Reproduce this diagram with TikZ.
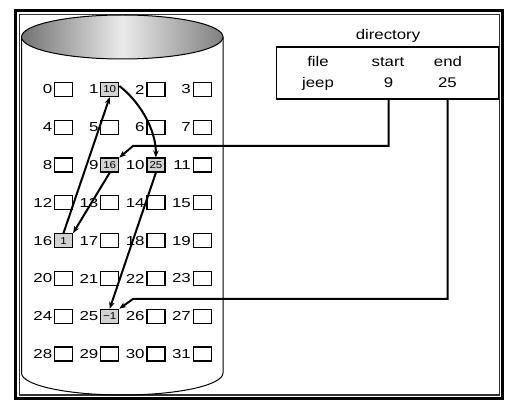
\documentclass[tikz,border=0pt]{standalone}
\usepackage{fontspec}
\setmainfont{Liberation Sans}
\newfontfamily\cellfont[FakeStretch=1.3]{Liberation Sans}
\newfontfamily\dirfont[FakeStretch=1.2]{Liberation Sans}
\newfontfamily\inboxfont[FakeStretch=1.15]{Liberation Sans}
\usetikzlibrary{arrows.meta}
\begin{document}
\begin{tikzpicture}[x=1pt,y=-1pt,
  blk/.style={draw, line width=1.2pt, minimum width=18pt, minimum height=14pt, inner sep=0pt, fill=white, font=\inboxfont\fontsize{10}{10}\selectfont},
  used/.style={blk, fill=gray!35},
  lbl/.style={anchor=east, inner sep=0pt, font=\cellfont\fontsize{13}{15}\selectfont},
  dtext/.style={anchor=base, inner sep=0pt, font=\dirfont\fontsize{14}{16}\selectfont},
  ptr/.style={line width=2pt, -{Stealth[length=7pt,width=5.5pt]}},
]
\useasboundingbox (0,0) rectangle (515,409);
\fill[white] (0,0) rectangle (515,409);
% frame
\draw[line width=3pt] (15.3,10.7) rectangle (502.3,398.3);
\draw[line width=1.3pt, black!80] (19.5,14.5) rectangle (499.3,395);
% cylinder
\draw[line width=1pt] (21.5,37) -- (21.5,373) arc[start angle=180, end angle=360, x radius=100.75pt, y radius=22pt] -- (223,37);
\shade[left color=black!55, right color=black!50, middle color=black!8, draw=black, line width=1pt]
  (122.25,37) ellipse [x radius=100.75pt, y radius=22pt];
% blocks
\foreach \i/\t/\s in {0//blk,1/10/used,2//blk,3//blk,4//blk,5//blk,6//blk,7//blk,
  8//blk,9/16/used,10/25/used,11//blk,12//blk,13//blk,14//blk,15//blk,
  16/1/used,17//blk,18//blk,19//blk,20//blk,21//blk,22//blk,23//blk,
  24//blk,25/−1/used,26//blk,27//blk,28//blk,29//blk,30//blk,31//blk} {
  \pgfmathtruncatemacro\c{mod(\i,4)}
  \pgfmathtruncatemacro\r{div(\i,4)}
  \node[\s] (b\i) at ({63.5+46.2*\c},{89.5+37.8*\r}) {\t};
  \node[lbl] (l\i) at ([xshift=-1.5pt]b\i.west) {\i};
}
% directory
\node[dtext] (dirt) at (388,39.3) {directory};
\node[draw, line width=1.2pt, minimum width=222.5pt, minimum height=52pt, inner sep=0pt] (dir) at (387.5,73) {};
\node[dtext] (dfile) at (318,66.7) {file};
\node[dtext] (dstart) at (388,66.7) {start};
\node[dtext] (dend) at (448,66.7) {end};
\node[dtext] (djeep) at (318,87.7) {jeep};
\node[dtext] (d9) at (388.5,87.7) {9};
\node[dtext] (d25) at (447.5,87.7) {25};
\coordinate (c1) at (133,146);
\coordinate (c2) at (133,299);
% chain
\draw[ptr] (b16.north) -- (b1.south);
\draw[ptr] (b1.20) .. controls (138,100) and (156,128) .. (b10.north);
\draw[ptr] (b10.south) -- (b25.north);
\draw[ptr] (b9.south) -- (b16.north east);
% directory pointers
\draw[ptr] (d9.south |- dir.south) |- (c1) -- (b9.north east);
\draw[ptr] (d25.south |- dir.south) |- (c2) -- (b25.north east);
\end{tikzpicture}
\end{document}
